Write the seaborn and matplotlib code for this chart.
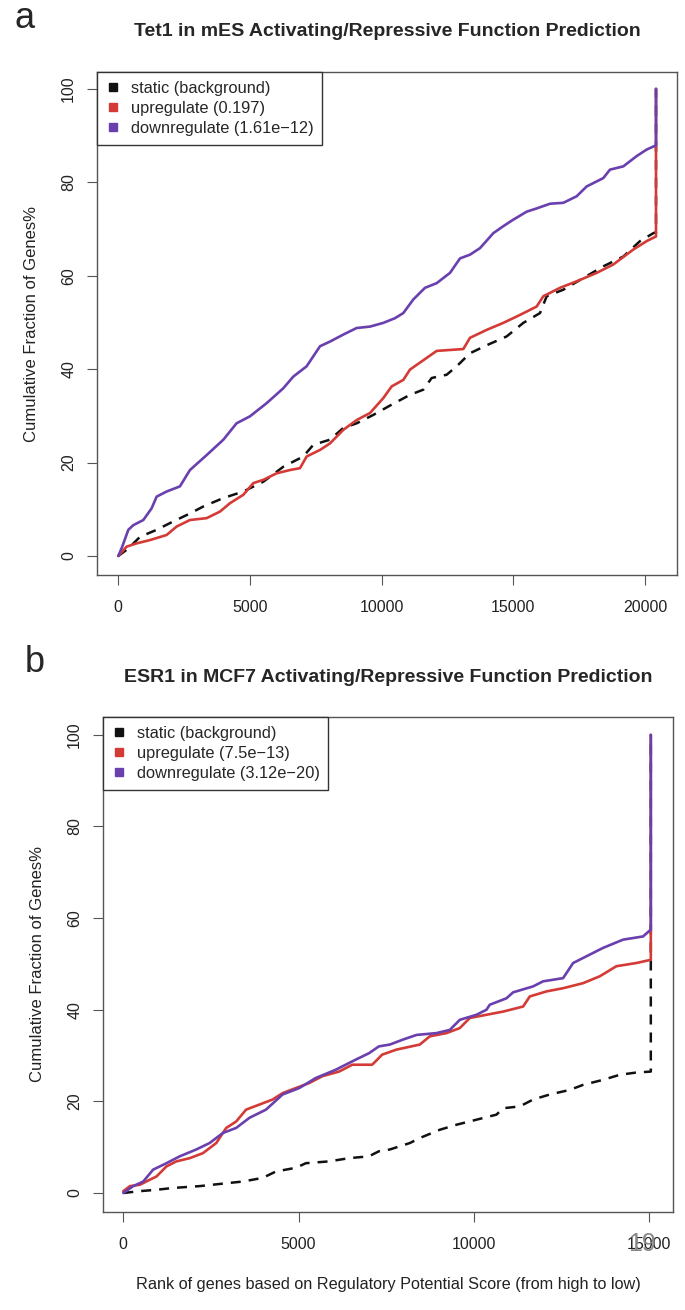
import pandas as pd
import matplotlib
matplotlib.use("Agg")
import matplotlib.pyplot as plt
from matplotlib.lines import Line2D
import seaborn as sns

# Panel a: Tet1 in mES
a_static_x = [0, 380, 823, 1455, 2089, 2720, 3228, 3987, 4747, 5506, 6266, 7025, 7405, 8038, 8544,
              9050, 9684, 10316, 11076, 11582, 11899, 12469, 12848, 13355, 13987, 14747, 15380, 16013,
              16266, 16899, 17658, 18418, 19177, 19810, 20316, 20418, 20418]
a_static_y = [0, 1.6, 4.1, 5.6, 7.4, 9.1, 10.6, 12.4, 13.8, 15.9, 19.1, 21.3, 23.8, 24.9, 27.4,
              28.4, 30.2, 32.2, 34.5, 35.6, 38.1, 38.8, 40.6, 43.4, 45.1, 47.0, 49.9, 52.0,
              55.6, 57.0, 59.5, 62.0, 64.1, 67.4, 69.1, 69.3, 100]
a_up_x = [0, 316, 696, 1200, 1835, 2215, 2720, 3355, 3860, 4240, 4747, 5127, 5506, 6013, 6519, 6899,
          7152, 7658, 8038, 8544, 9051, 9557, 10063, 10380, 10823, 11076, 11709, 12089, 13101, 13354,
          13987, 14620, 15253, 15886, 16139, 16772, 17405, 18165, 18797, 19557, 20063, 20418, 20418]
a_up_y = [0, 2.0, 2.7, 3.4, 4.5, 6.3, 7.7, 8.1, 9.5, 11.3, 13.1, 15.6, 16.3, 17.7, 18.4, 18.8,
          21.3, 22.7, 24.1, 27.0, 29.1, 30.6, 33.8, 36.3, 37.7, 39.9, 42.4, 43.9, 44.3, 46.7,
          48.4, 49.9, 51.6, 53.4, 55.6, 57.4, 58.8, 60.6, 62.4, 65.6, 67.4, 68.4, 100]
a_down_x = [0, 150, 380, 570, 950, 1265, 1455, 1835, 2340, 2720, 3355, 3990, 4490, 5000, 5630, 6265,
            6645, 7150, 7660, 8040, 8545, 9050, 9555, 10063, 10506, 10823, 11200, 11645, 12090, 12595,
            12975, 13355, 13735, 14240, 14620, 15000, 15506, 15886, 16392, 16899, 17405, 17785, 18418,
            18670, 19177, 19683, 20063, 20418, 20418]
a_down_y = [0, 2.0, 5.6, 6.6, 7.7, 10.2, 12.7, 13.8, 14.9, 18.4, 21.6, 24.9, 28.4, 29.9, 32.7, 35.9,
            38.4, 40.6, 44.9, 45.9, 47.4, 48.8, 49.1, 49.9, 50.9, 52.0, 54.9, 57.4, 58.4, 60.6,
            63.7, 64.5, 65.9, 69.1, 70.6, 72.0, 73.7, 74.4, 75.4, 75.6, 77.0, 79.1, 80.9,
            82.7, 83.4, 85.6, 87.0, 87.9, 100]

# Panel b: ESR1 in MCF7
b_static_x = [0, 473, 947, 1420, 2178, 3030, 3409, 3977, 4356, 4924, 5208, 5871, 6439, 7008, 7292,
              7605, 8175, 8460, 9030, 9506, 10076, 10646, 10837, 11312, 11692, 12167, 12738, 13118,
              13688, 14164, 14639, 15050, 15050]
b_static_y = [0, 0.4, 0.7, 1.1, 1.5, 2.2, 2.5, 3.3, 4.7, 5.5, 6.5, 6.9, 7.6, 8.0, 9.1,
              9.5, 10.9, 12.0, 13.8, 14.9, 16.0, 17.1, 18.5, 18.9, 20.4, 21.5, 22.5, 23.6,
              24.7, 25.8, 26.3, 26.5, 100]
b_up_x = [0, 189, 473, 758, 947, 1231, 1515, 1894, 2273, 2652, 2936, 3220, 3504, 3883, 4261, 4545,
          4924, 5303, 5682, 6155, 6534, 7102, 7386, 7795, 8460, 8745, 9221, 9601, 9886, 10361,
          10837, 11407, 11597, 12072, 12548, 13118, 13593, 14068, 14639, 15050, 15050]
b_up_y = [0.4, 1.5, 1.8, 2.9, 3.6, 5.8, 6.9, 7.6, 8.7, 10.9, 14.2, 15.6, 18.2, 19.3, 20.4, 21.8,
          22.9, 24.0, 25.5, 26.5, 28.0, 28.0, 30.2, 31.3, 32.4, 34.2, 34.9, 36.0, 38.2, 38.9,
          39.6, 40.7, 42.9, 44.0, 44.7, 45.8, 47.3, 49.5, 50.2, 50.9, 100]
b_down_x = [0, 284, 568, 852, 1231, 1610, 2083, 2462, 2841, 3220, 3598, 4072, 4545, 5019, 5492, 6061,
            6629, 7008, 7292, 7605, 7985, 8365, 8935, 9316, 9601, 10076, 10361, 10456, 10932, 11122,
            11692, 11977, 12548, 12833, 13118, 13688, 14259, 14829, 15050, 15050]
b_down_y = [0, 1.5, 2.5, 5.1, 6.5, 8.0, 9.5, 10.9, 13.1, 14.2, 16.4, 18.2, 21.5, 22.9, 25.1, 26.9,
            29.1, 30.5, 32.0, 32.4, 33.5, 34.5, 34.9, 35.6, 37.8, 38.9, 40.0, 41.1, 42.5, 43.8,
            45.1, 46.2, 46.9, 50.2, 51.3, 53.5, 55.3, 56.0, 57.5, 100]

a_labels = ["static (background)", "upregulate (0.197)", "downregulate (1.61e\u221212)"]
b_labels = ["static (background)", "upregulate (7.5e\u221213)", "downregulate (3.12e\u221220)"]
a_ticks = [0, 5000, 10000, 15000, 20000]
b_ticks = [0, 5000, 10000, 15000]
y_ticks = [0, 20, 40, 60, 80, 100]

sns.set_style("ticks")
plt.rcParams['font.family'] = ['Liberation Sans', 'DejaVu Sans']

c_black = "#111111"
c_red = "#d43b36"
c_purple = "#6a3fae"
frame = "#555555"

fig = plt.figure(figsize=(6.85, 13.1), dpi=100)
ax_a = fig.add_axes([97 / 685, 1 - 575 / 1310, 580 / 685, 503 / 1310])
ax_b = fig.add_axes([103 / 685, 1 - 1212 / 1310, 570 / 685, 495 / 1310])


def draw(ax, sx, sy, ux, uy, dx, dy, labels, xticks, xlim, ylim):
    df_s = pd.DataFrame({"x": sx, "y": sy})
    df_u = pd.DataFrame({"x": ux, "y": uy})
    df_d = pd.DataFrame({"x": dx, "y": dy})
    sns.lineplot(data=df_s, x="x", y="y", ax=ax, color=c_black, lw=1.8, sort=False,
                 estimator=None, linestyle=(0, (4, 3.2)), zorder=2)
    sns.lineplot(data=df_u, x="x", y="y", ax=ax, color=c_red, lw=1.9, sort=False,
                 estimator=None, linestyle="-", zorder=3)
    sns.lineplot(data=df_d, x="x", y="y", ax=ax, color=c_purple, lw=1.9, sort=False,
                 estimator=None, linestyle="-", zorder=4)
    ax.set_xlim(*xlim)
    ax.set_ylim(*ylim)
    ax.set_xticks(xticks)
    ax.set_xticklabels([str(t) for t in xticks], fontsize=11.5)
    ax.set_yticks(y_ticks)
    ax.set_yticklabels([str(t) for t in y_ticks], fontsize=11.5, rotation=90, va="center")
    ax.tick_params(axis="both", length=7, width=0.8, color=frame, pad=8, labelcolor="#222222")
    ax.tick_params(axis="x", pad=11)
    for s in ax.spines.values():
        s.set_visible(True)
        s.set_color(frame)
        s.set_linewidth(1.0)
    ax.set_xlabel("")
    ax.set_ylabel("Cumulative Fraction of Genes%", fontsize=12, labelpad=16, color="#222222")
    handles = [Line2D([], [], ls="none", marker="s", markersize=5.5, color=c)
               for c in (c_black, c_red, c_purple)]
    leg = ax.legend(handles, labels, loc="upper left", borderaxespad=0, fancybox=False,
                    fontsize=11.8, handlelength=0.8, handletextpad=0.7, labelspacing=0.3,
                    borderpad=0.55, framealpha=1)
    leg.get_frame().set_edgecolor("#333333")
    leg.get_frame().set_linewidth(1.0)
    leg.set_zorder(5)


draw(ax_a, a_static_x, a_static_y, a_up_x, a_up_y, a_down_x, a_down_y, a_labels,
     a_ticks, (-809, 21215), (-4.07, 103.6))
draw(ax_b, b_static_x, b_static_y, b_up_x, b_up_y, b_down_x, b_down_y, b_labels,
     b_ticks, (-579, 15683), (-4.15, 103.9))

ax_b.set_xlabel("Rank of genes based on Regulatory Potential Score (from high to low)",
                fontsize=11.7, labelpad=18, color="#222222")

fig.text(387 / 685, 1 - 32 / 1310, "Tet1 in mES Activating/Repressive Function Prediction",
         ha="center", va="center", fontsize=14, fontweight="bold")
fig.text(388 / 685, 1 - 678 / 1310, "ESR1 in MCF7 Activating/Repressive Function Prediction",
         ha="center", va="center", fontsize=14, fontweight="bold")
fig.text(25 / 685, 1 - 18 / 1310, "a", ha="center", va="center", fontsize=26)
fig.text(35 / 685, 1 - 662 / 1310, "b", ha="center", va="center", fontsize=26)
fig.text(642 / 685, 1 - 1244 / 1310, "19", ha="center", va="center", fontsize=18,
         color="#888888")

fig.savefig("out.png", dpi=100)
